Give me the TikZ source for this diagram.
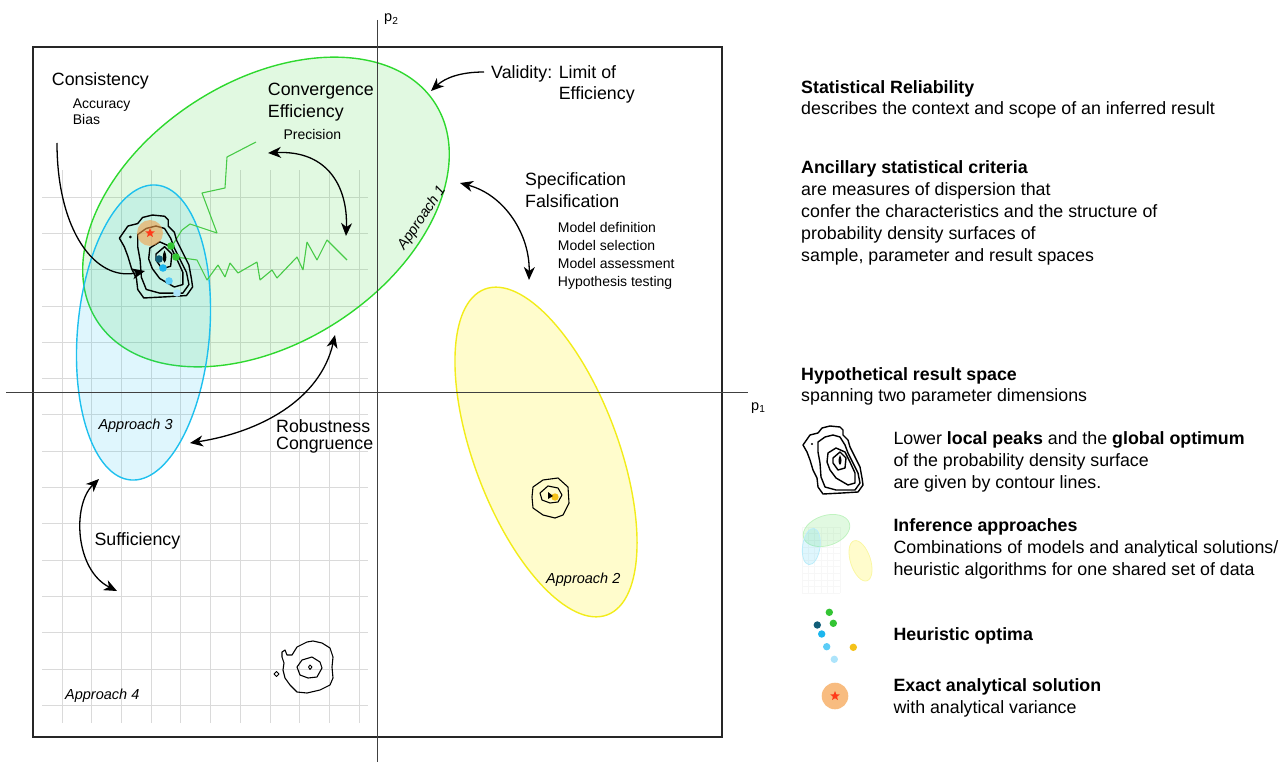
\documentclass[tikz,border=0pt]{standalone}
\usepackage{fontspec}
\setmainfont{Liberation Sans}
\usetikzlibrary{arrows.meta,%
                shapes.geometric}

\definecolor{apgreen}{HTML}{2ED82E}
\definecolor{apblue}{HTML}{1EC0EE}
\definecolor{apyellow}{HTML}{F2EC1A}
\definecolor{optteal}{HTML}{115E78}
\definecolor{optgreen}{HTML}{33C433}
\definecolor{optblue}{HTML}{1CB6EE}
\definecolor{optlight}{HTML}{5CCDF7}
\definecolor{optpale}{HTML}{ADE4FB}
\definecolor{optgold}{HTML}{F4C21A}
\definecolor{solorange}{HTML}{F5A04A}
\definecolor{solred}{HTML}{FF3A1A}
\definecolor{gridgray}{HTML}{DADADA}

\newcommand{\bigfont}{\fontsize{17.8}{21.7}\selectfont}
\newcommand{\smallfont}{\fontsize{14}{17.8}\selectfont}

\tikzset{
  contourset/.pic={
    \draw[contourline] (-30,-15) -- (-23,-25) -- (-15,-27) -- (-11,-32) -- (-3,-34) -- (7,-33) -- (10,-30) -- (10,-25)
      -- (15,-20) -- (17,-13) -- (22,-3) -- (27,7) -- (29,18) -- (30,25) -- (25,32) -- (9,33) -- (-10,34)
      -- (-15,27) -- (-16,18) -- (-20,10) -- (-23,0) -- (-26,-8) -- cycle;
    \draw[contourline] (-15,-18) -- (-8,-23) -- (0,-25) -- (7,-23) -- (12,-15) -- (15,-7) -- (20,3) -- (25,13)
      -- (27,23) -- (22,30) -- (3,30) -- (-8,27) -- (-12,17) -- (-13,3) -- (-15,-8) -- cycle;
    \draw[contourline] (-5,-7) -- (3,-12) -- (12,-8) -- (17,2) -- (22,13) -- (22,23) -- (15,25) -- (3,18)
      -- (-3,10) -- (-6,2) -- cycle;
    \draw[contourline] (0,-2) -- (7,-8) -- (13,-2) -- (12,8) -- (5,10) -- (0,3) -- cycle;
    \fill (7,-5) .. controls (9,-1) and (9,3) .. (7,5) .. controls (5,3) and (5,-1) .. (7,-5);
    \fill (-21,-16) circle [radius=1.2];
  }
}

\begin{document}
\begin{tikzpicture}[x=1pt,y=-1pt]
  \tikzstyle{gridline}=[gridgray,line width=0.8]
  \tikzstyle{contourline}=[black,line width=1.4,line join=round]
  \tikzstyle{search}=[optgreen!90,line width=1.1,line join=bevel]
  \tikzstyle{crit}=[line width=1.3,-{Stealth[length=13pt,width=11pt,inset=4pt]}]
  \tikzstyle{critboth}=[line width=1.3,{Stealth[length=13pt,width=11pt,inset=4pt]}-{Stealth[length=13pt,width=11pt,inset=4pt]}]
  % base anchor of a text block = baseline of its last line
  \tikzstyle{bigtext}=[anchor=base west,inner sep=0,align=left,font=\bigfont]
  \tikzstyle{smalltext}=[anchor=base west,inner sep=0,align=left,font=\smallfont]
  \tikzstyle{apptext}=[anchor=base west,inner sep=0,font=\fontsize{14.5}{17}\selectfont\itshape]
  \useasboundingbox (0,0) rectangle (1279,762);

  % grid of the result space
  \foreach \gy in {0,...,14}
    \draw[gridline] (42,{197+36.3*\gy}) -- (368,{197+36.3*\gy});
  \foreach \gx in {0,...,10}
    \draw[gridline] ({62+29.7*\gx},170) -- ({62+29.7*\gx},723);

  % inference approaches
  \draw[apgreen,line width=1.4,fill=apgreen,fill opacity=0.14] (266,212) circle [x radius=201,y radius=131,rotate=32.8];
  \draw[apblue,line width=1.4,fill=apblue,fill opacity=0.14] (143.5,332.5) circle [x radius=66,y radius=148,rotate=-5];
  \draw[apyellow,line width=1.4,fill=yellow,fill opacity=0.2] (546,452) circle [x radius=72,y radius=174,rotate=20.6];

  % frame and axes
  \draw[black!85,line width=1.3] (33,47) rectangle (722,737);
  \draw[black!75,line width=1.5] (377.5,20) -- (377.5,762);
  \draw[black!75,line width=1.5] (6,392.5) -- (748,392.5);
  \node[anchor=base west,inner sep=0,font=\fontsize{14.5}{17}\selectfont] (ptwo) at (384,22) {p\textsubscript{2}};
  \node[anchor=base west,inner sep=0,font=\fontsize{14.5}{17}\selectfont] (pone) at (751,410) {p\textsubscript{1}};

  % heuristic search paths
  \draw[search] (256,142) -- (227,157) -- (225,188) -- (202,193) -- (217,233) -- (190,224) -- (182,230) -- (172,246);
  \draw[search] (176,257) -- (197,260) -- (207,280) -- (218,265) -- (225,277) -- (230,263) -- (238,273) -- (257,262)
    -- (260,280) -- (272,270) -- (277,278) -- (297,257) -- (303,270) -- (307,242) -- (317,260) -- (327,240) -- (347,260);

  % density surfaces
  \pic[scale=1.22] at (156,256.5) {contourset};
  \fill[solorange,opacity=0.6] (150,233) circle [radius=13];
  \node[star,star points=5,star point ratio=2.3,fill=solred,inner sep=0,minimum size=10pt] (mainstar) at (150,233) {};
  \foreach \dc/\dx/\dy in {optgreen/171/246,optgreen/176/257,optteal/159/259,optblue/163/268,optlight/169/281,optpale/177/293}
    \fill[\dc] (\dx,\dy) circle [radius=3.8];

  \draw[contourline,line width=1.1] (533,487) -- (543,480) -- (558,478) -- (568,487) -- (569,503) -- (563,515) -- (555,518)
    -- (543,515) -- (533,508) -- (532,497) -- cycle;
  \draw[contourline,line width=1.1] (540,493) -- (548,486) -- (558,488) -- (562,495) -- (558,502) -- (550,503) -- (542,500) -- cycle;
  \fill[optgold] (555,497) circle [radius=3.7];
  \fill (548,492) -- (553,496) -- (548,499) -- cycle;

  \draw[contourline,line width=1.1] (282,652) -- (285,650) -- (287,655) -- (292,655) -- (297,647) -- (307,642) -- (313,641)
    -- (322,643) -- (330,648) -- (333,657) -- (332,667) -- (333,678) -- (330,685) -- (320,690) -- (307,693) -- (297,692)
    -- (290,685) -- (285,678) -- (283,670) -- (284,663) -- (282,657) -- cycle;
  \draw[contourline,line width=1.1] (297,667) -- (302,660) -- (312,657) -- (320,662) -- (322,668) -- (317,677) -- (308,678) -- (300,675) -- cycle;
  \draw[contourline,line width=0.9] (310,665) -- (312,667) -- (310,669.5) -- (308.5,667) -- cycle;
  \draw[contourline,line width=0.9] (276.5,671.5) -- (279,674) -- (276.5,676.5) -- (274,674) -- cycle;

  % criteria
  \node[bigtext] (consist) at (51.7,86) {Consistency};
  \node[smalltext,font=\fontsize{14}{16.7}\selectfont] (accur) at (72.7,125) {Accuracy\\Bias};
  \node[bigtext,font=\fontsize{17.8}{21.3}\selectfont] (converg) at (267.7,117.3) {Convergence\\Efficiency};
  \node[smalltext] (precis) at (283.3,139.3) {Precision};
  \node[bigtext] (valid) at (491,100) {Validity: Limit of\\\hphantom{Validity: }Efficiency};
  \node[bigtext] (specif) at (525,207.3) {Specification\\Falsification};
  \node[smalltext] (model) at (557.7,286) {Model definition\\Model selection\\Model assessment\\Hypothesis testing};
  \node[bigtext,font=\fontsize{17.8}{17.2}\selectfont] (robust) at (276,449.9) {Robustness\\Congruence};
  \node[bigtext] (suffic) at (94.3,545) {Sufficiency};

  \node[apptext,anchor=center,rotate=56] (apone) at (422,218) {Approach 1};
  \node[apptext] (aptwo) at (546,583) {Approach 2};
  \node[apptext] (apthree) at (98.3,429.3) {Approach 3};
  \node[apptext] (apfour) at (65,699.3) {Approach 4};

  \coordinate (consfrom) at (57,143);   \coordinate (consto) at (145,271);
  \coordinate (precfrom) at (268,153);  \coordinate (precto) at (346,236);
  \coordinate (validfrom) at (484,72);  \coordinate (validto) at (431,91);
  \coordinate (specfrom) at (460,183);  \coordinate (specto) at (529,280);
  \coordinate (robfrom) at (335,335);   \coordinate (robto) at (190,443);
  \coordinate (suffrom) at (99,479);    \coordinate (sufto) at (117,591);
  \draw[crit] (consfrom) .. controls (57,230) and (95,282) .. (consto);
  \draw[critboth] (precfrom) .. controls (330,150) and (348,190) .. (precto);
  \draw[crit] (validfrom) .. controls (460,72) and (445,78) .. (validto);
  \draw[critboth] (specfrom) .. controls (505,195) and (530,235) .. (specto);
  \draw[critboth] (robfrom) .. controls (320,400) and (260,432) .. (robto);
  \draw[critboth] (suffrom) .. controls (72,505) and (75,570) .. (sufto);

  % legend
  \node[bigtext] (relia) at (801,115) {\textbf{Statistical Reliability}\\describes the context and scope of an inferred result};
  \node[bigtext,font=\fontsize{17.8}{22}\selectfont] (ancil) at (801,261.7) {\textbf{Ancillary statistical criteria}\\are measures of dispersion that\\confer the characteristics and the structure of\\probability density surfaces of\\sample, parameter and result spaces};
  \node[bigtext] (hypo) at (801,401.7) {\textbf{Hypothetical result space}\\spanning two parameter dimensions};

  \pic at (833,460) {contourset};
  \node[bigtext] (peaks) at (893.3,488.3) {Lower \textbf{local peaks} and the \textbf{global optimum}\\of the probability density surface\\are given by contour lines.};

  \foreach \gy in {0,...,10}
    \draw[gray!6,line width=0.5] (802,{527+6.6*\gy}) -- (840,{527+6.6*\gy});
  \foreach \gx in {0,...,6}
    \draw[gray!6,line width=0.5] ({802+6.3*\gx},527) -- ({802+6.3*\gx},593);
  \draw[apgreen!30,line width=0.8,fill=apgreen,fill opacity=0.14] (826.5,530.5) circle [x radius=24,y radius=15,rotate=18];
  \draw[apblue!30,line width=0.8,fill=apblue,fill opacity=0.14] (811.3,546.5) circle [x radius=8.7,y radius=18.3,rotate=-8];
  \draw[apyellow!40,line width=0.8,fill=yellow,fill opacity=0.2] (860.5,560.8) circle [x radius=10,y radius=21,rotate=18];
  \node[bigtext] (infer) at (893.3,575) {\textbf{Inference approaches}\\Combinations of models and analytical solutions/\\heuristic algorithms for one shared set of data};

  \foreach \dc/\dx/\dy in {optgreen/829.3/612.3,optgreen/833.3/623.3,optteal/817.3/625,optblue/821.7/634,optlight/826.7/646.7,optgold/853.3/647.3,optpale/834.3/659.3}
    \fill[\dc] (\dx,\dy) circle [radius=3.7];
  \node[bigtext] (heur) at (893.3,640) {\textbf{Heuristic optima}};

  \fill[solorange,opacity=0.7] (835,696) circle [radius=13.3];
  \node[star,star points=5,star point ratio=2.3,fill=solred,inner sep=0,minimum size=10pt] (legstar) at (835,696) {};
  \node[bigtext] (exact) at (893.3,713.3) {\textbf{Exact analytical solution}\\with analytical variance};
\end{tikzpicture}
\end{document}
